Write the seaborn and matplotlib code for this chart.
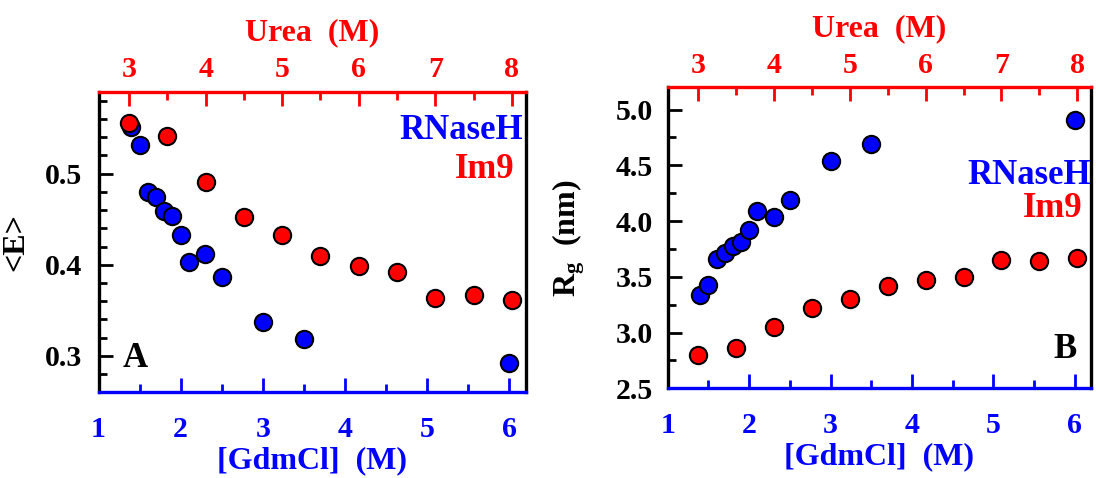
import matplotlib
matplotlib.use("Agg")
import matplotlib.pyplot as plt
from matplotlib.ticker import MultipleLocator
import seaborn as sns

# RNaseH vs [GdmCl] (bottom axis)
gdm_rnaseh = [1.4, 1.5, 1.6, 1.7, 1.8, 1.9, 2.0, 2.1, 2.3, 2.5, 3.0, 3.5, 6.0]
E_rnaseh = [0.551, 0.531, 0.480, 0.474, 0.459, 0.453, 0.433, 0.403, 0.412, 0.387, 0.337, 0.318, 0.292]
Rg_rnaseh = [3.34, 3.43, 3.66, 3.71, 3.78, 3.81, 3.92, 4.09, 4.04, 4.19, 4.54, 4.695, 4.91]

# Im9 vs Urea (top axis)
urea_im9 = [3.0, 3.5, 4.0, 4.5, 5.0, 5.5, 6.0, 6.5, 7.0, 7.5, 8.0]
E_im9 = [0.556, 0.541, 0.491, 0.452, 0.433, 0.410, 0.399, 0.392, 0.364, 0.367, 0.361]
Rg_im9 = [2.80, 2.86, 3.05, 3.22, 3.30, 3.42, 3.47, 3.50, 3.65, 3.64, 3.67]

gdm_ticks = [1, 2, 3, 4, 5, 6]
urea_ticks = [3, 4, 5, 6, 7, 8]

sns.set_style("ticks")
plt.rcParams['font.family'] = ['Liberation Serif', 'DejaVu Serif']
plt.rcParams['font.weight'] = 'bold'
plt.rcParams['axes.labelweight'] = 'bold'
plt.rcParams['mathtext.fontset'] = 'custom'
plt.rcParams['mathtext.rm'] = 'Liberation Serif:bold'
plt.rcParams['mathtext.bf'] = 'Liberation Serif:bold'
plt.rcParams['mathtext.it'] = 'Liberation Serif:bold:italic'

BLUE = (0, 0, 1)
RED = (1, 0, 0)
TICK_FS = 21.5
LABEL_FS = 23
TEXT_FS = 25
SPINE_W = 2.4

fig = plt.figure(figsize=(10.96, 4.78), dpi=100)


def panel(rect, y_rnase, y_im9, ylim, yticks, yminor, ylabel, ylab_x, letter, letter_xy, letter_ha,
          rnase_xy, im9_xy, ypad):
    ax = fig.add_axes(rect)
    sns.scatterplot(x=gdm_rnaseh, y=y_rnase, ax=ax, color=BLUE, s=155,
                    edgecolor='black', linewidth=1.5, zorder=3)
    ax.set_xlim(1, 6.2)
    ax.set_ylim(*ylim)
    ax.set_xticks(gdm_ticks)
    ax.xaxis.set_minor_locator(MultipleLocator(0.5))
    ax.set_yticks(yticks)
    ax.yaxis.set_minor_locator(MultipleLocator(yminor))

    ax.tick_params(axis='x', which='both', direction='in', colors=BLUE, width=2,
                   top=False, bottom=True, labelsize=TICK_FS, pad=17)
    ax.tick_params(axis='y', which='both', direction='in', colors='black', width=2,
                   left=True, right=False, labelsize=TICK_FS, pad=ypad)
    ax.tick_params(which='major', length=10)
    ax.tick_params(which='minor', length=6)

    for s in ['left', 'right', 'bottom']:
        ax.spines[s].set_linewidth(SPINE_W)
    ax.spines['top'].set_visible(False)
    ax.spines['bottom'].set_color(BLUE)
    ax.spines['left'].set_color('black')
    ax.spines['right'].set_color('black')

    ax.set_xlabel('[GdmCl]  (M)', color=BLUE, fontsize=LABEL_FS)
    ax.xaxis.set_label_coords(0.5, -0.18)
    ax.set_ylabel(ylabel, color='black', fontsize=LABEL_FS)
    ax.yaxis.set_label_coords(ylab_x, 0.5)

    # top axis: urea
    axt = ax.twiny()
    sns.scatterplot(x=urea_im9, y=y_im9, ax=axt, color=RED, s=155,
                    edgecolor='black', linewidth=1.5, zorder=3)
    axt.set_xlim(2.6, 8.18)
    axt.set_ylim(*ylim)
    axt.set_xticks(urea_ticks)
    axt.xaxis.set_minor_locator(MultipleLocator(0.5))
    axt.tick_params(axis='x', which='both', direction='in', colors=RED, width=2,
                    top=True, bottom=False, labelsize=TICK_FS, pad=6)
    axt.tick_params(which='major', length=10)
    axt.tick_params(which='minor', length=6)
    for s in ['left', 'right', 'bottom']:
        axt.spines[s].set_visible(False)
    axt.spines['top'].set_color(RED)
    axt.spines['top'].set_linewidth(SPINE_W)
    axt.set_xlabel('Urea  (M)', color=RED, fontsize=LABEL_FS)
    axt.xaxis.set_label_coords(0.5, 1.17)
    axt.set_ylabel('')

    axt.text(*rnase_xy, 'RNaseH', color=BLUE, fontsize=TEXT_FS, ha='right', va='baseline',
             transform=ax.transAxes)
    axt.text(*im9_xy, 'Im9', color=RED, fontsize=TEXT_FS, ha='right', va='baseline',
             transform=ax.transAxes)
    axt.text(*letter_xy, letter, color='black', fontsize=TEXT_FS, ha=letter_ha, va='baseline',
             transform=ax.transAxes)
    return ax


panel([98.5 / 1096, (478 - 392.3) / 478, 427.1 / 1096, 300.6 / 478],
      E_rnaseh, E_im9, (0.26, 0.59), [0.3, 0.4, 0.5], 0.02, '<E>', -0.16,
      'A', (0.057, 0.085), 'left', (0.994, 0.842), (0.973, 0.712), 11.5)

panel([667.7 / 1096, (478 - 388.3) / 478, 423.3 / 1096, 301 / 478],
      Rg_rnaseh, Rg_im9, (2.5, 5.2), [2.5, 3.0, 3.5, 4.0, 4.5, 5.0], 0.25,
      r'$\mathbf{R_g}$  (nm)', -0.19,
      'B', (0.966, 0.10), 'right', (1.001, 0.678), (0.980, 0.570), 10.6)

fig.savefig('out.png', dpi=100)
